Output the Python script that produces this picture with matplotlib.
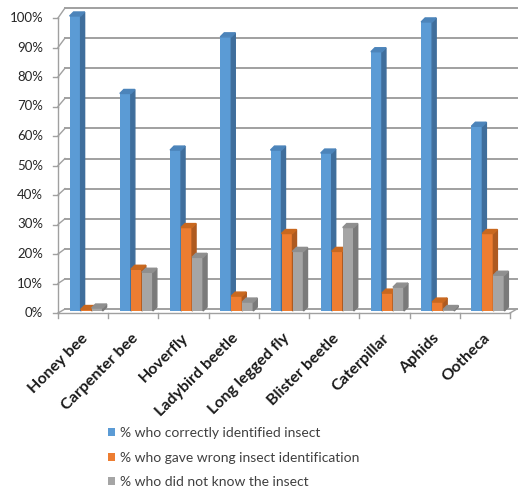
import numpy as np
import matplotlib.pyplot as plt
from matplotlib.patches import Polygon, Patch

plt.rcParams['font.family'] = ['Lato', 'DejaVu Sans']

# Survey results per insect (percent of respondents)
insects = ['Honey bee', 'Carpenter bee', 'Hoverfly', 'Ladybird beetle',
           'Long legged fly', 'Blister beetle', 'Caterpillar', 'Aphids', 'Ootheca']
correct = [99, 73, 54, 92, 54, 53, 87, 97, 62]
wrong = [0.5, 14, 28, 5, 26, 20, 6, 3, 26]
unknown = [1, 13, 18, 3, 20, 28, 8, 0.5, 12]

series_labels = ['% who correctly identified insect',
                 '% who gave wrong insect identification',
                 '% who did not know the insect']
yticks = list(range(0, 101, 10))

# front / side / top shades for the pseudo-3D columns
face_cols = ['#5B9BD5', '#ED7D31', '#A5A5A5']
side_cols = ['#3F6E9C', '#AE5A20', '#7A7A7A']
top_cols = ['#4C84BA', '#C9681F', '#8F8F8F']

W, H = 519, 491
fig = plt.figure(figsize=(W / 100, H / 100), dpi=100)
# axes box: x from 58 to 510 px, y from 311 (0) to 13 (100) px
ax = fig.add_axes([58 / W, (H - 311) / H, 452 / W, 298 / H])
ax.set_xlim(-0.5, len(insects) - 0.5)
ax.set_ylim(0, 100)
ax.axis('off')

px_x = (len(insects)) / 452.0   # data units per pixel, x
px_y = 100 / 298.0               # data units per pixel, y


def front(v):
    # front edge of the floor / value axis
    return (2.95 * v - 2) / 2.98


def back(v):
    # back wall where the gridlines sit
    return (2 + 3.01 * v) / 2.98


grid_col = '#A0A0A0'
gdx = 7 * px_x
x0, x1 = -0.5, len(insects) - 0.5

# back wall gridlines and the diagonals linking them to the value axis
for v in yticks:
    ax.plot([x0 + gdx, x1 + gdx], [back(v), back(v)], color=grid_col, lw=1.4,
            clip_on=False, zorder=1)
    ax.plot([x0, x0 + gdx], [front(v), back(v)], color=grid_col, lw=1.0,
            clip_on=False, zorder=1)
    ax.plot([x0 - 5 * px_x, x0], [front(v), front(v)], color=grid_col, lw=1.0,
            clip_on=False, zorder=1)
    ax.text(x0 - 15 * px_x, front(v), f'{v}%', ha='right', va='center',
            fontsize=9.5, color='#262626', clip_on=False)

# value axis and floor
ax.plot([x0, x0], [front(0), front(100)], color=grid_col, lw=1.0, clip_on=False)
ax.plot([x0, x1], [front(0), front(0)], color=grid_col, lw=1.0, clip_on=False)
ax.plot([x1, x1 + gdx], [front(0), back(0)], color=grid_col, lw=1.0, clip_on=False)
for b in np.arange(x0, x1 + 0.01, 1.0):
    ax.plot([b, b], [front(0), front(0) - 5 * px_y], color=grid_col, lw=1.0,
            clip_on=False)

# columns
bw = 11 * px_x
offsets = [-8 * px_x, 3 * px_x, 14 * px_x]
dx, dy = 4 * px_x, 4 * px_y
xs = np.arange(len(insects))
for k, vals in enumerate([correct, wrong, unknown]):
    bars = ax.bar(xs + offsets[k], vals, width=bw, color=face_cols[k],
                  zorder=3, clip_on=False)
    for rect in bars:
        l = rect.get_x()
        r = l + rect.get_width()
        h = rect.get_height()
        ax.add_patch(Polygon([(r, 0), (r + dx, dy), (r + dx, h + dy), (r, h)],
                             closed=True, color=side_cols[k], zorder=3,
                             clip_on=False))
        ax.add_patch(Polygon([(l, h), (r, h), (r + dx, h + dy), (l + dx, h + dy)],
                             closed=True, color=top_cols[k], zorder=3,
                             clip_on=False))

# category labels
for i, name in enumerate(insects):
    ax.annotate(name, xy=(i, front(0)), xytext=(-1.5, -13),
                textcoords='offset points', rotation=45, rotation_mode='anchor',
                ha='right', va='top', fontsize=11.5, fontweight='bold',
                color='#1A1A1A', annotation_clip=False)

handles = [Patch(facecolor=c, edgecolor='none') for c in face_cols]
fig.legend(handles, series_labels, loc='upper left',
           bbox_to_anchor=(108 / W, 1 - 427 / H), frameon=False,
           fontsize=10, handlelength=0.5, handleheight=0.5, handletextpad=0.4,
           labelspacing=0.9, borderpad=0, borderaxespad=0,
           labelcolor='#404040')

fig.savefig('out.png', dpi=100)
